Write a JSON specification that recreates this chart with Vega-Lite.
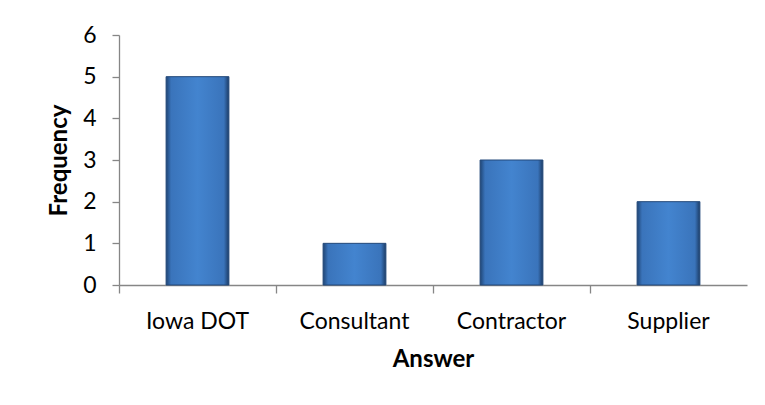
{
  "$schema": "https://vega.github.io/schema/vega-lite/v6.json",
  "autosize": {"type": "none"},
  "padding": {"left": 119, "top": 35, "right": 18, "bottom": 120},
  "width": 628,
  "height": 250,
  "background": "white",
  "config": {
    "view": {"stroke": null},
    "font": "Lato",
    "axis": {"grid": false, "domainColor": "#868686", "tickColor": "#868686", "labelColor": "#000000", "titleColor": "#000000", "labelFont": "Lato", "titleFont": "Lato", "labelFontSize": 23, "titleFontSize": 24, "titleFontWeight": "bold", "labelFontWeight": "normal", "tickSize": 7, "domainWidth": 1.3, "tickWidth": 1.3}
  },
  "data": {"values": [
    {"Answer": "Iowa DOT", "Frequency": 5},
    {"Answer": "Consultant", "Frequency": 1},
    {"Answer": "Contractor", "Frequency": 3},
    {"Answer": "Supplier", "Frequency": 2}
  ]},
  "mark": {
    "type": "bar",
    "width": {"band": 0.4},
    "stroke": "#23497a",
    "strokeWidth": 1,
    "fill": {
      "x1": 0, "x2": 1, "y1": 0, "y2": 0,
      "gradient": "linear",
      "stops": [
        {"offset": 0, "color": "#1f4575"},
        {"offset": 0.08, "color": "#3a74bb"},
        {"offset": 0.5, "color": "#4384cf"},
        {"offset": 0.92, "color": "#3a74bb"},
        {"offset": 1, "color": "#1c3c66"}
      ]
    }
  },
  "encoding": {
    "x": {
      "field": "Answer", "type": "nominal", "sort": null,
      "scale": {"paddingInner": 0, "paddingOuter": 0},
      "axis": {"labelAngle": 0, "bandPosition": 0, "labelPadding": 35, "titlePadding": 14, "tickSize": 8, "labelBaseline": "alphabetic"}
    },
    "y": {
      "field": "Frequency", "type": "quantitative",
      "scale": {"domain": [0, 6], "nice": false},
      "axis": {"values": [0, 1, 2, 3, 4, 5, 6], "labelPadding": 16, "titlePadding": 11}
    }
  }
}
